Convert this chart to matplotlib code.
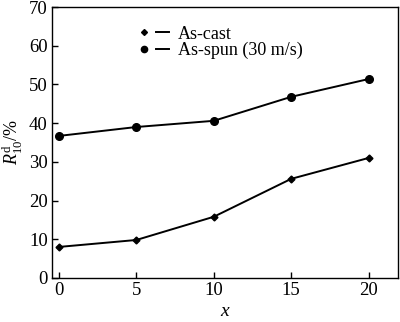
import matplotlib
matplotlib.use("Agg")
import matplotlib.pyplot as plt
from matplotlib.lines import Line2D
from matplotlib.legend_handler import HandlerTuple

plt.rcParams['font.family'] = ['Liberation Serif', 'DejaVu Serif']
plt.rcParams['mathtext.fontset'] = 'custom'
plt.rcParams['mathtext.rm'] = 'Liberation Serif'
plt.rcParams['mathtext.it'] = 'Liberation Serif:italic'

x = [0, 5, 10, 15, 20]
as_cast = [8.0, 9.8, 15.8, 25.6, 31.0]
as_spun = [36.7, 39.0, 40.6, 46.8, 51.4]
labels = ["As-cast", "As-spun (30 m/s)"]

fig = plt.figure(figsize=(4.0, 3.22), dpi=100)
ax = fig.add_axes([0.13, 0.137, 0.865, 0.841])

ax.plot(x, as_cast, color='black', lw=1.4, marker='D', ms=3.5)
ax.plot(x, as_spun, color='black', lw=1.4, marker='o', ms=5.5)

ax.set_xlim(-0.45, 21.9)
ax.set_ylim(0, 70)
ax.set_xticks([0, 5, 10, 15, 20])
ax.set_yticks(range(0, 71, 10))
ax.tick_params(direction='in', length=4, width=1, labelsize=13.5, top=False, right=False, pad=3)
for s in ax.spines.values():
    s.set_linewidth(1)

ax.set_xlabel('$x$', fontsize=14, labelpad=3)
ax.set_ylabel(r'$R_{10}^{\mathrm{d}}$/%', fontsize=13)
ax.yaxis.set_label_coords(-0.078, 0.5)

h1 = (Line2D([], [], color='black', marker='D', ms=3, ls='none'),
      Line2D([], [], color='black', lw=1.4))
h2 = (Line2D([], [], color='black', marker='o', ms=4.5, ls='none'),
      Line2D([], [], color='black', lw=1.4))
ax.legend([h1, h2], labels, handler_map={tuple: HandlerTuple(ndivide=None, pad=0.3)},
          loc='upper left', bbox_to_anchor=(0.22, 0.965), frameon=False, fontsize=13,
          handlelength=1.75, handletextpad=0.5, labelspacing=-0.05, borderpad=0)

fig.savefig('out.png', dpi=100)
